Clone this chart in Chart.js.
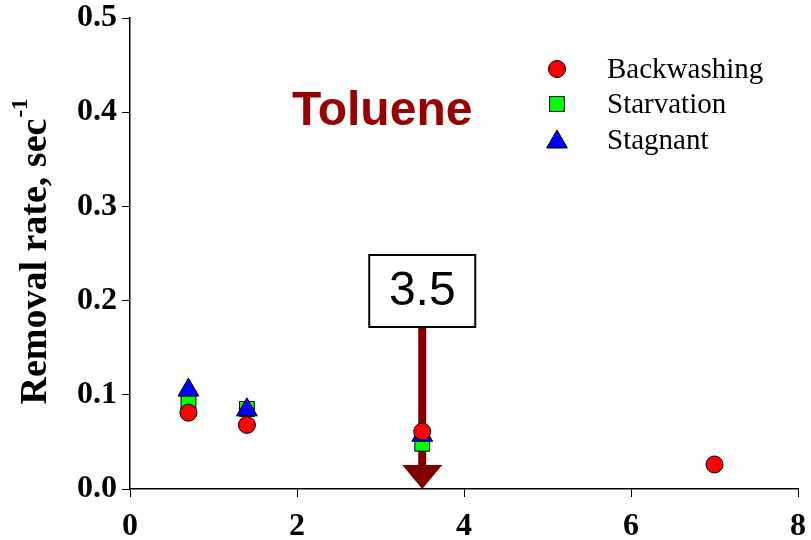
<!DOCTYPE html>
<html>
<head>
<meta charset="utf-8">
<title>Toluene removal rate</title>
<script src="https://cdn.jsdelivr.net/npm/chart.js@4.4.0/dist/chart.umd.min.js"></script>
<style>
	html, body { margin: 0; padding: 0; background: #fff; }
	#wrap { width: 811px; height: 540px; }
</style>
</head>
<body>
<div id="wrap"><canvas id="chartRemoval"></canvas></div>
<script>
// Removal rate (sec^-1) for each regime
var backwashingX = [0.7, 1.4, 3.5, 7.0];
var backwashingY = [0.081, 0.068, 0.061, 0.026];
var starvationX = [0.7, 1.4, 3.5];
var starvationY = [0.091, 0.085, 0.048];
var stagnantX = [0.7, 1.4, 3.5];
var stagnantY = [0.105, 0.084, 0.057];

var xTicks = [0, 2, 4, 6, 8];
var yTicks = [0, 0.1, 0.2, 0.3, 0.4, 0.5];

var compound = "Toluene";
var markedX = 3.5;

function toPoints(xs, ys) {
	return xs.map(function(x, i) { return { x: x, y: ys[i] }; });
}

var serif = "'Liberation Serif', 'Times New Roman', serif";
var sans = "'Liberation Sans', Arial, sans-serif";

var series = [
	{ label: "Backwashing", data: toPoints(backwashingX, backwashingY), pointStyle: 'circle', pointRadius: 8.5, backgroundColor: '#ff0000', order: 0 },
	{ label: "Starvation", data: toPoints(starvationX, starvationY), pointStyle: 'rect', pointRadius: 10.5, backgroundColor: '#00ff00', order: 2 },
	{ label: "Stagnant", data: toPoints(stagnantX, stagnantY), pointStyle: 'triangle', pointRadius: 12, backgroundColor: '#0000ff', order: 1 }
];
series.forEach(function(s) {
	s.borderColor = '#000';
	s.borderWidth = 1;
	s.pointHoverRadius = s.pointRadius;
	s.showLine = false;
});

// arrow under the markers, pointing at the marked x value
var arrowPlugin = {
	id: 'arrowMark',
	beforeDatasetsDraw: function(chart) {
		var ctx = chart.ctx, xs = chart.scales.x, ys = chart.scales.y;
		var px = xs.getPixelForValue(markedX);
		var tip = ys.getPixelForValue(0);
		var top = 327;
		ctx.save();
		ctx.fillStyle = '#800000';
		ctx.fillRect(px - 4, top, 8, tip - 24 - top);
		ctx.beginPath();
		ctx.moveTo(px - 20, tip - 24);
		ctx.lineTo(px + 20, tip - 24);
		ctx.lineTo(px, tip);
		ctx.closePath();
		ctx.fill();
		ctx.restore();
	}
};

// label box, compound name, legend, y title
var notesPlugin = {
	id: 'notes',
	afterDatasetsDraw: function(chart) {
		var ctx = chart.ctx, xs = chart.scales.x, ys = chart.scales.y;
		var px = xs.getPixelForValue(markedX);
		ctx.save();

		// box with value
		ctx.fillStyle = '#fff';
		ctx.fillRect(px - 53, 255, 106, 72);
		ctx.lineWidth = 2;
		ctx.strokeStyle = '#000';
		ctx.strokeRect(px - 53, 255, 106, 72);
		ctx.fillStyle = '#000';
		ctx.font = "48px " + sans;
		ctx.textAlign = 'center';
		ctx.textBaseline = 'middle';
		ctx.fillText(markedX.toFixed(1), px, 292);

		// compound name
		ctx.fillStyle = '#990000';
		ctx.font = "bold 48px " + sans;
		ctx.fillText(compound, xs.getPixelForValue(3.02), ys.getPixelForValue(0.4));

		// legend
		var rowY = [69, 104, 140];
		ctx.font = "29px " + serif;
		ctx.textAlign = 'left';
		series.forEach(function(s, i) {
			ctx.fillStyle = s.backgroundColor;
			ctx.strokeStyle = '#000';
			ctx.lineWidth = 1;
			Chart.helpers.drawPoint(ctx, { pointStyle: s.pointStyle, radius: s.pointRadius, borderWidth: 1 }, 557, rowY[i] + (s.pointStyle === 'triangle' ? 2 : 0));
			ctx.fillStyle = '#000';
			ctx.fillText(s.label, 607, rowY[i] + 1);
		});

		// y axis title with superscript
		ctx.translate(36, 252);
		ctx.rotate(-Math.PI / 2);
		ctx.font = "bold 38px " + serif;
		ctx.textAlign = 'left';
		ctx.textBaseline = 'middle';
		var main = "Removal rate, sec";
		var w = ctx.measureText(main).width;
		ctx.font = "bold 23px " + serif;
		var sw = ctx.measureText("-1").width;
		var start = -(w + sw) / 2;
		ctx.font = "bold 38px " + serif;
		ctx.fillText(main, start, 0);
		ctx.font = "bold 23px " + serif;
		ctx.fillText("-1", start + w + 1, -15);
		ctx.restore();
	}
};

var ctxChartRemoval = document.getElementById("chartRemoval");
var chartRemoval = new Chart(ctxChartRemoval, {
	type: 'scatter',
	data: { datasets: series },
	plugins: [arrowPlugin, notesPlugin],
	options: {
		responsive: true,
		maintainAspectRatio: false,
		animation: false,
		layout: { padding: { top: 18, right: 11, left: 0, bottom: 0 } },
		plugins: { legend: { display: false }, tooltip: { enabled: false } },
		scales: {
			x: {
				type: 'linear',
				min: 0,
				max: 8,
				afterBuildTicks: function(s) { s.ticks = xTicks.map(function(v) { return { value: v }; }); },
				afterFit: function(s) { s.height = 51; s.paddingLeft = 0; s.paddingRight = 0; },
				grid: { drawOnChartArea: false, drawTicks: true, tickLength: 8, color: '#000', lineWidth: 1 },
				border: { display: true, color: '#000', width: 1.5 },
				ticks: { color: '#000', padding: 11, maxRotation: 0, font: { family: serif, size: 32, weight: 'bold' } }
			},
			y: {
				type: 'linear',
				min: 0,
				max: 0.5,
				afterBuildTicks: function(s) { s.ticks = yTicks.map(function(v) { return { value: v }; }); },
				afterFit: function(s) { s.width = 130; s.paddingTop = 0; s.paddingBottom = 0; },
				grid: { drawOnChartArea: false, drawTicks: true, tickLength: 8, color: '#000', lineWidth: 1 },
				border: { display: true, color: '#000', width: 1.5 },
				ticks: {
					color: '#000',
					padding: 5,
					font: { family: serif, size: 32, weight: 'bold' },
					callback: function(v) { return Number(v).toFixed(1); }
				}
			}
		}
	}
});
</script>
</body>
</html>
